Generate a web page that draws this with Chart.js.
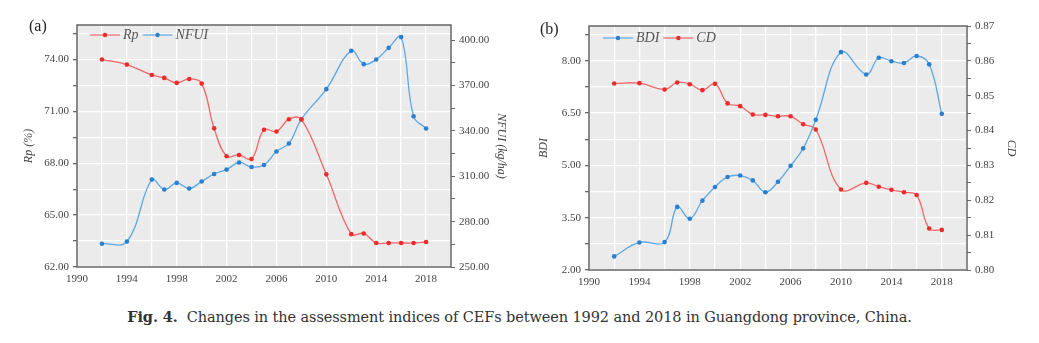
<!DOCTYPE html>
<html>
<head>
<meta charset="utf-8">
<script src="https://cdn.jsdelivr.net/npm/chart.js@4.4.0/dist/chart.umd.min.js"></script>
<style>
  body { margin: 0; background: #fff; width: 1039px; height: 343px; position: relative; overflow: hidden; }
  .box { position: absolute; top: 0; height: 300px; }
  #boxA { left: 0; width: 520px; }
  #boxB { left: 520px; width: 519px; }
  .tag { position: absolute; font: 16px "Liberation Serif", serif; color: #222; }
  #caption { position: absolute; left: 0; width: 1039px; top: 308px; text-align: center;
             font: 14.5px "DejaVu Serif", serif; color: #333; letter-spacing: -0.1px; }
</style>
</head>
<body>
<div class="box" id="boxA"><canvas id="chartA"></canvas></div>
<div class="box" id="boxB"><canvas id="chartB"></canvas></div>
<div class="tag" style="left:29px;top:17px">(a)</div>
<div class="tag" style="left:540px;top:20px">(b)</div>
<div id="caption"><b>Fig. 4.</b>&nbsp; Changes in the assessment indices of CEFs between 1992 and 2018 in Guangdong province, China.</div>
<script>
// Data
const years = [1992, 1994, 1996, 1997, 1998, 1999, 2000, 2001, 2002, 2003, 2004, 2005,
               2006, 2007, 2008, 2010, 2012, 2013, 2014, 2015, 2016, 2017, 2018];

// (a)
const rp   = [74.0, 73.71, 73.11, 72.94, 72.65, 72.88, 72.61, 70.02, 68.41, 68.48, 68.25, 69.94,
              69.84, 70.55, 70.54, 67.36, 63.9, 63.94, 63.39, 63.39, 63.39, 63.39, 63.45];
const nfui = [265.4, 266.8, 307.8, 301.2, 305.6, 301.9, 306.5, 311.5, 314.4, 319.1, 316.1, 317.4,
              326.4, 331.7, 347.7, 367.6, 392.9, 384.1, 387.2, 394.9, 402.0, 349.6, 341.6];

// (b)
const bdi = [2.39, 2.79, 2.80, 3.81, 3.47, 3.99, 4.38, 4.67, 4.71, 4.57, 4.23, 4.53,
             4.99, 5.49, 6.31, 8.25, 7.61, 8.09, 7.99, 7.94, 8.14, 7.90, 6.48];
const cd  = [0.8535, 0.8536, 0.8518, 0.8538, 0.8533, 0.8516, 0.8534, 0.8478, 0.8470, 0.8446, 0.8445, 0.8441,
             0.8441, 0.8418, 0.8403, 0.8231, 0.8250, 0.8239, 0.8230, 0.8223, 0.8215, 0.8119, 0.8115];

// axis ticks
const xTicks = [1990, 1992, 1994, 1996, 1998, 2000, 2002, 2004, 2006, 2008, 2010, 2012, 2014, 2016, 2018, 2020];
const xLabels = [1990, 1994, 1998, 2002, 2006, 2010, 2014, 2018];
const rpTicks = [62, 63.5, 65, 66.5, 68, 69.5, 71, 72.5, 74, 75.5];
const rpLabels = [62, 65, 68, 71, 74];
const nfuiTicks = [250, 265, 280, 295, 310, 325, 340, 355, 370, 385, 400];
const nfuiLabels = [250, 280, 310, 340, 370, 400];
const bdiTicks = [2, 2.75, 3.5, 4.25, 5, 5.75, 6.5, 7.25, 8, 8.75];
const bdiLabels = [2, 3.5, 5, 6.5, 8];
const cdTicks = [0.8, 0.805, 0.81, 0.815, 0.82, 0.825, 0.83, 0.835, 0.84, 0.845, 0.85, 0.855, 0.86, 0.865, 0.87];
const cdLabels = [0.8, 0.81, 0.82, 0.83, 0.84, 0.85, 0.86, 0.87];

const RED = '#f06868', RED_PT = '#ee2a2a';
const BLUE = '#5ea8e2', BLUE_PT = '#2a7fcf';
const AXIS = '#666';
const serif = '"Liberation Serif", serif';

const toXY = (vals) => vals.map((v, i) => ({ x: years[i], y: v }));
const hasLabel = (list, v) => list.some(l => Math.abs(l - v) < 1e-6);

// plot background + frame + legend inside the plot
const framePlugin = {
  id: 'frame',
  beforeDraw(chart) {
    const { ctx, chartArea: a } = chart;
    ctx.save();
    ctx.fillStyle = '#ebebeb';
    ctx.fillRect(a.left, a.top, a.right - a.left, a.bottom - a.top);
    ctx.restore();
  },
  afterDraw(chart, args, opts) {
    const { ctx, chartArea: a } = chart;
    ctx.save();
    ctx.strokeStyle = AXIS;
    ctx.lineWidth = 1.5;
    ctx.strokeRect(a.left, a.top, a.right - a.left, a.bottom - a.top);
    // legend
    let x = a.left + opts.dx;
    const y = a.top + opts.dy;
    ctx.font = 'italic 14px ' + serif;
    ctx.textBaseline = 'middle';
    chart.data.datasets.forEach(ds => {
      ctx.strokeStyle = ds.borderColor;
      ctx.lineWidth = 1.2;
      ctx.beginPath();
      ctx.moveTo(x, y);
      ctx.lineTo(x + 30, y);
      ctx.stroke();
      ctx.fillStyle = ds.pointBackgroundColor;
      ctx.beginPath();
      ctx.arc(x + 15, y, 2.2, 0, Math.PI * 2);
      ctx.fill();
      ctx.fillStyle = '#555';
      ctx.fillText(ds.label, x + 33, y);
      x += 33 + ctx.measureText(ds.label).width + 4;
    });
    ctx.restore();
  }
};

function fixW(w) { return (s) => { s.width = w; }; }
function fixH(h) { return (s) => { s.height = h; }; }
function setTicks(list) { return (s) => { s.ticks = list.map(v => ({ value: v })); }; }

function xAxis(h) {
  return {
    type: 'linear', min: 1990, max: 2020,
    afterBuildTicks: setTicks(xTicks),
    afterFit: fixH(h),
    grid: { color: '#fff', lineWidth: 1.3, drawTicks: false },
    border: { display: false },
    ticks: {
      padding: 6, color: '#444', font: { family: serif, size: 11 },
      maxRotation: 0, autoSkip: false,
      callback: v => hasLabel(xLabels, v) ? String(v) : ''
    }
  };
}

function yAxis(pos, min, max, ticks, labels, digits, title, w, grid) {
  return {
    type: 'linear', position: pos, min: min, max: max,
    afterBuildTicks: setTicks(ticks),
    afterFit: fixW(w),
    grid: grid
      ? { color: '#fff', lineWidth: 1.3, tickLength: 4, tickColor: AXIS }
      : { drawOnChartArea: false, tickLength: 4, tickColor: AXIS },
    border: { display: false },
    ticks: {
      padding: 4, color: '#444', font: { family: serif, size: 11 }, autoSkip: false,
      callback: v => hasLabel(labels, v) ? v.toFixed(digits) : ''
    },
    title: { display: true, text: title, color: '#444', font: { family: serif, size: 12, style: 'italic' }, padding: 2 }
  };
}

function line(label, vals, color, ptColor, axis) {
  return {
    label: label, data: toXY(vals), yAxisID: axis,
    borderColor: color, borderWidth: 1.3, tension: 0.4,
    pointRadius: 2.3, pointBackgroundColor: ptColor, pointBorderWidth: 0
  };
}

new Chart(document.getElementById('chartA'), {
  type: 'line',
  data: {
    datasets: [
      line('Rp', rp, RED, RED_PT, 'y'),
      line('NFUI', nfui, BLUE, BLUE_PT, 'y1')
    ]
  },
  options: {
    responsive: true, maintainAspectRatio: false, animation: false,
    layout: { padding: { left: 20, right: 10, top: 25, bottom: 0 } },
    plugins: { legend: { display: false }, tooltip: { enabled: false }, frame: { dx: 13, dy: 10 } },
    scales: {
      x: xAxis(33),
      y: yAxis('left', 62, 76, rpTicks, rpLabels, 2, 'Rp (%)', 57, true),
      y1: yAxis('right', 250, 410, nfuiTicks, nfuiLabels, 2, 'NFUI (kg/ha)', 59, false)
    }
  },
  plugins: [framePlugin]
});

new Chart(document.getElementById('chartB'), {
  type: 'line',
  data: {
    datasets: [
      line('BDI', bdi, BLUE, BLUE_PT, 'y'),
      line('CD', cd, RED, RED_PT, 'y1')
    ]
  },
  options: {
    responsive: true, maintainAspectRatio: false, animation: false,
    layout: { padding: { left: 15, right: 19, top: 26, bottom: 0 } },
    plugins: { legend: { display: false }, tooltip: { enabled: false }, frame: { dx: 14, dy: 12 } },
    scales: {
      x: xAxis(30),
      y: yAxis('left', 2, 9, bdiTicks, bdiLabels, 2, 'BDI', 54, true),
      y1: yAxis('right', 0.8, 0.87, cdTicks, cdLabels, 2, 'CD', 53, false)
    }
  },
  plugins: [framePlugin]
});
</script>
</body>
</html>
